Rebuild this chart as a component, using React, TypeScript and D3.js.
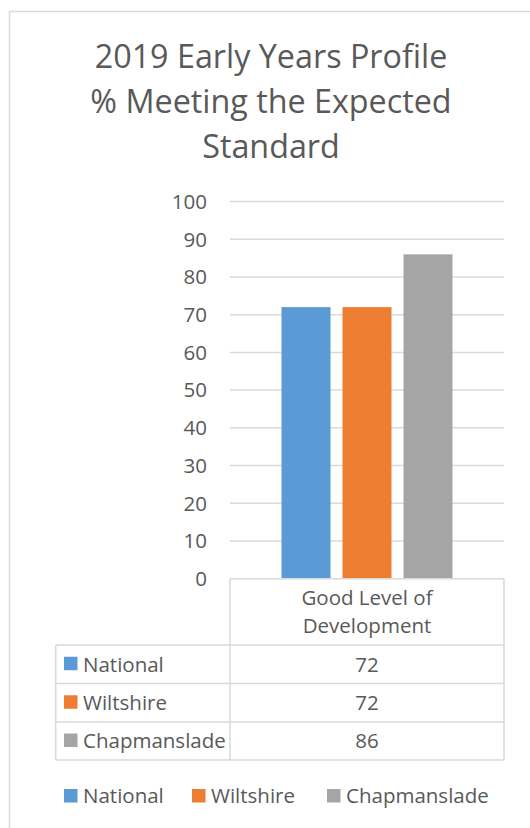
import React from "react";
import * as d3 from "d3";

const titleLines = ["2019 Early Years Profile", "% Meeting the Expected", "Standard"];
const categories = ["Good Level of Development"];
const categoryLabelLines = ["Good Level of", "Development"];
const seriesNames = ["National", "Wiltshire", "Chapmanslade"];
const seriesColors = ["#5B9BD5", "#ED7D31", "#A5A5A5"];
const seriesValues = [72, 72, 86];
const yTicks = [0, 10, 20, 30, 40, 50, 60, 70, 80, 90, 100];

const W = 530;
const H = 828;
const FONT = "'Open Sans', 'Noto Sans', sans-serif";
const TEXT = "#595959";
const GRID = "#d9d9d9";
const FS = 20.5;

export default function App() {
  const plotLeft = 230;
  const plotRight = 504;
  const plotTop = 201.5;
  const plotBottom = 578.7;

  const y = d3.scaleLinear().domain([0, 100]).range([plotBottom, plotTop]);
  const x0 = d3.scaleBand().domain(categories).range([plotLeft, plotRight]).paddingInner(0).paddingOuter(0);
  const groupWidth = 171;
  const x1 = d3
    .scaleBand()
    .domain(seriesNames)
    .range([
      (x0(categories[0]) as number) + x0.bandwidth() / 2 - groupWidth / 2,
      (x0(categories[0]) as number) + x0.bandwidth() / 2 + groupWidth / 2,
    ])
    .paddingInner(12 / 61)
    .paddingOuter(0);

  const tableLeft = 55.7;
  const rowLines = [645, 683.5, 722, 760];
  const centerX = (plotLeft + plotRight) / 2;

  const legendX = [64, 192, 327];

  return (
    <svg
      width={W}
      height={H}
      style={{ position: "absolute", left: 0, top: 0, background: "#fff" }}
      fontFamily={FONT}
    >
      <rect x={0} y={0} width={W} height={H} fill="#fff" />
      {/* outer border */}
      <line x1={9.5} y1={11.5} x2={W} y2={11.5} stroke={GRID} strokeWidth={1.5} />
      <line x1={9.5} y1={11.5} x2={9.5} y2={H} stroke={GRID} strokeWidth={1.5} />

      {/* title */}
      {titleLines.map((t, i) => (
        <text key={t} x={271} y={68 + i * 45} textAnchor="middle" fontSize={32.3} fill={TEXT}>
          {t}
        </text>
      ))}

      {/* gridlines */}
      {yTicks
        .filter((t) => t > 0)
        .map((t) => (
          <line key={t} x1={plotLeft} x2={plotRight} y1={y(t)} y2={y(t)} stroke={GRID} strokeWidth={1.5} />
        ))}

      {/* y tick labels */}
      {yTicks.map((t) => (
        <text key={t} x={207} y={y(t) + 7.3} textAnchor="end" fontSize={FS} fill={TEXT}>
          {t}
        </text>
      ))}

      {/* bars */}
      {seriesNames.map((s, i) => (
        <rect
          key={s}
          x={x1(s)}
          y={y(seriesValues[i])}
          width={x1.bandwidth()}
          height={y(0) - y(seriesValues[i])}
          fill={seriesColors[i]}
        />
      ))}

      {/* data table */}
      <g stroke={GRID} strokeWidth={1.5} fill="none">
        <line x1={plotLeft} x2={plotRight} y1={plotBottom} y2={plotBottom} />
        <line x1={plotLeft} x2={plotLeft} y1={plotBottom} y2={rowLines[rowLines.length - 1]} />
        <line x1={plotRight} x2={plotRight} y1={plotBottom} y2={rowLines[rowLines.length - 1]} />
        <line x1={tableLeft} x2={tableLeft} y1={rowLines[0]} y2={rowLines[rowLines.length - 1]} />
        {rowLines.map((ry) => (
          <line key={ry} x1={tableLeft} x2={plotRight} y1={ry} y2={ry} />
        ))}
      </g>
      {categoryLabelLines.map((l, i) => (
        <text key={l} x={centerX} y={604.5 + i * 28.5} textAnchor="middle" fontSize={FS} fill={TEXT}>
          {l}
        </text>
      ))}
      {seriesNames.map((s, i) => {
        const top = rowLines[i];
        const bottom = rowLines[i + 1];
        const mid = (top + bottom) / 2;
        return (
          <g key={s}>
            <rect x={64} y={mid - 7.5} width={13.5} height={13.5} fill={seriesColors[i]} />
            <text x={83} y={mid + 7.3} fontSize={FS} fill={TEXT}>
              {s}
            </text>
            <text x={centerX} y={mid + 7.3} textAnchor="middle" fontSize={FS} fill={TEXT}>
              {seriesValues[i]}
            </text>
          </g>
        );
      })}

      {/* legend */}
      {seriesNames.map((s, i) => (
        <g key={s}>
          <rect x={legendX[i]} y={789} width={13.5} height={13.5} fill={seriesColors[i]} />
          <text x={legendX[i] + 19} y={803} fontSize={FS} fill={TEXT}>
            {s}
          </text>
        </g>
      ))}
    </svg>
  );
}
